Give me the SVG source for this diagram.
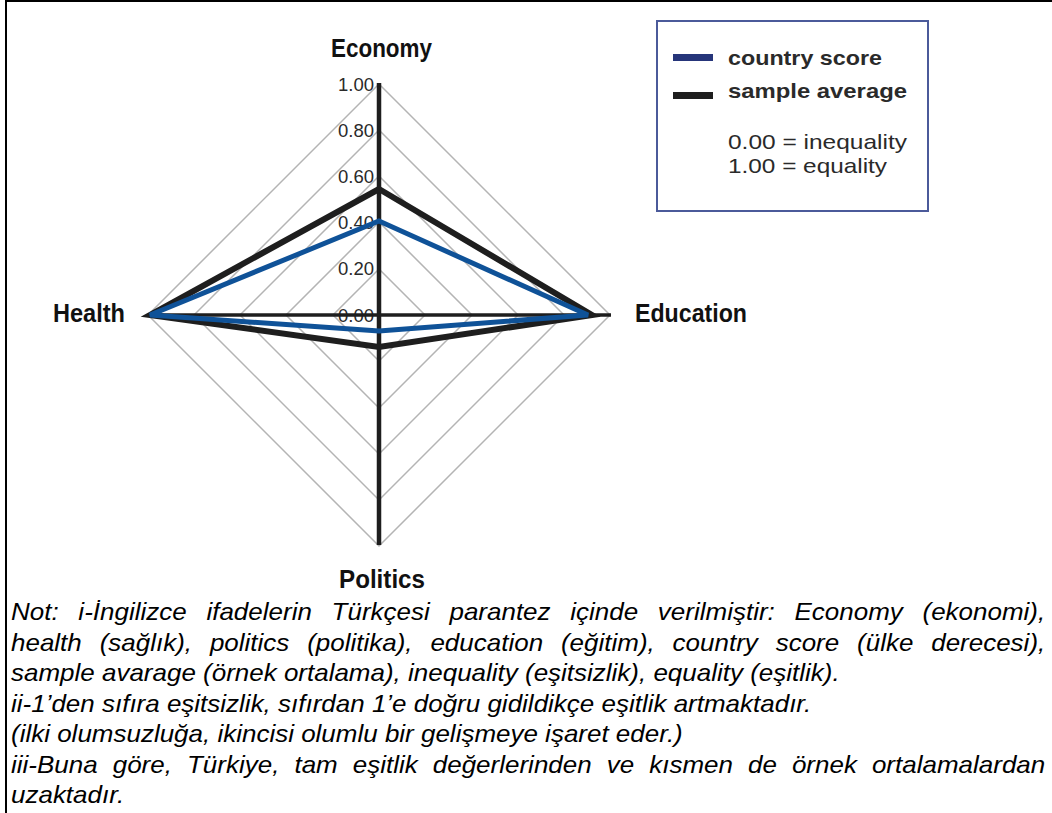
<svg xmlns="http://www.w3.org/2000/svg" width="1052" height="813" viewBox="0 0 1052 813">
<style>
.grid{fill:none;stroke:#b4b4b4;stroke-width:1.5}
.axis{stroke:#1e1e1e;fill:none}
.tick{font-family:"Liberation Sans",Arial,sans-serif;font-size:19px;fill:#2a2a2a;text-anchor:end}
.lab{font-family:"Liberation Sans",Arial,sans-serif;font-weight:bold;font-size:25px;fill:#111}
.leg{font-family:"Liberation Sans",Arial,sans-serif;font-size:21px;fill:#2a2a2a}
.note{font-family:"Liberation Sans",Arial,sans-serif;font-style:italic;font-size:24px;fill:#000}
</style>
<rect width="1052" height="813" fill="#fff"/>
<g id="frame">
<line x1="6" y1="1" x2="1052" y2="1" stroke="#000" stroke-width="2"/>
<line x1="6" y1="0" x2="6" y2="813" stroke="#000" stroke-width="2"/>
</g>
<g id="grid">
<polygon class="grid" points="379,84 610,315 379,546 148,315"/>
<polygon class="grid" points="379,130 564,315 379,500 194,315"/>
<polygon class="grid" points="379,176 518,315 379,454 240,315"/>
<polygon class="grid" points="379,222 472,315 379,408 286,315"/>
<polygon class="grid" points="379,269 425,315 379,361 333,315"/>
</g>
<g id="ticks">
<text class="tick" x="374" y="91" textLength="36" lengthAdjust="spacingAndGlyphs">1.00</text>
<text class="tick" x="374" y="137" textLength="36" lengthAdjust="spacingAndGlyphs">0.80</text>
<text class="tick" x="374" y="183" textLength="36" lengthAdjust="spacingAndGlyphs">0.60</text>
<text class="tick" x="374" y="229" textLength="36" lengthAdjust="spacingAndGlyphs">0.40</text>
<text class="tick" x="374" y="275" textLength="36" lengthAdjust="spacingAndGlyphs">0.20</text>
<text class="tick" x="374" y="322" textLength="36" lengthAdjust="spacingAndGlyphs">0.00</text>
</g>
<g id="connectors">
<line class="axis" x1="379" y1="83" x2="379" y2="545" stroke-width="4.5"/>
<line class="axis" x1="150" y1="315" x2="611" y2="315" stroke-width="3.5"/>
<polygon points="379,189 592,315 379,347 150,315" fill="none" stroke="#1e1e1e" stroke-width="6" stroke-linejoin="miter"/>
<polygon points="379,221 588,315 379,331 150,315" fill="none" stroke="#0f5298" stroke-width="5" stroke-linejoin="miter"/>
</g>
<g id="economy"><text class="lab" x="331" y="57" textLength="101" lengthAdjust="spacingAndGlyphs">Economy</text></g>
<g id="health"><text class="lab" x="53" y="322" textLength="72" lengthAdjust="spacingAndGlyphs">Health</text></g>
<g id="education"><text class="lab" x="635" y="322" textLength="112" lengthAdjust="spacingAndGlyphs">Education</text></g>
<g id="politics"><text class="lab" x="339" y="588" textLength="86" lengthAdjust="spacingAndGlyphs">Politics</text></g>
<g id="legend">
<rect x="657" y="21" width="271" height="190" fill="#fff" stroke="#4b5a9a" stroke-width="2"/>
<rect x="673" y="54" width="40" height="7" fill="#26357a"/>
<rect x="673" y="92" width="40" height="7" fill="#1e1e1e"/>
<text class="leg" x="728" y="65" font-weight="bold" textLength="154" lengthAdjust="spacingAndGlyphs">country score</text>
<text class="leg" x="728" y="98" font-weight="bold" textLength="179" lengthAdjust="spacingAndGlyphs">sample average</text>
<text class="leg" x="728" y="149" textLength="179" lengthAdjust="spacingAndGlyphs">0.00 = inequality</text>
<text class="leg" x="728" y="173" textLength="159" lengthAdjust="spacingAndGlyphs">1.00 = equality</text>
</g>
<g id="note" transform="translate(11,0) scale(1.083,1)">
<text class="note" x="0" y="620" word-spacing="11.5" textLength="955" lengthAdjust="spacing">Not: i-İngilizce ifadelerin Türkçesi parantez içinde verilmiştir: Economy (ekonomi),</text>
<text class="note" x="0" y="651" word-spacing="9.8" textLength="955" lengthAdjust="spacing">health (sağlık), politics (politika), education (eğitim), country score (ülke derecesi),</text>
<text class="note" x="0" y="681">sample avarage (örnek ortalama), inequality (eşitsizlik), equality (eşitlik).</text>
<text class="note" x="0" y="712">ii-1’den sıfıra eşitsizlik, sıfırdan 1’e doğru gidildikçe eşitlik artmaktadır.</text>
<text class="note" x="0" y="742">(ilki olumsuzluğa, ikincisi olumlu bir gelişmeye işaret eder.)</text>
<text class="note" x="0" y="773" word-spacing="7.2" textLength="955" lengthAdjust="spacing">iii-Buna göre, Türkiye, tam eşitlik değerlerinden ve kısmen de örnek ortalamalardan</text>
<text class="note" x="0" y="803">uzaktadır.</text>
</g>
</svg>
